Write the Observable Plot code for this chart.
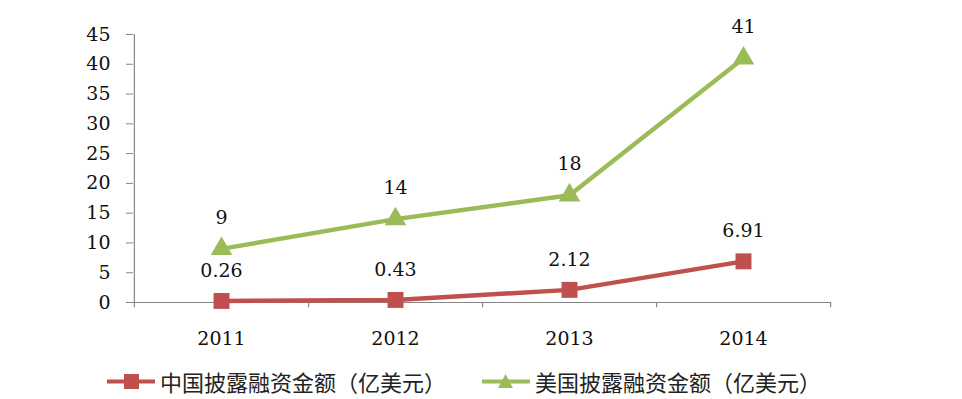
<!DOCTYPE html>
<html><head><meta charset="utf-8">
<script src="https://cdn.jsdelivr.net/npm/d3@7"></script>
<script src="https://cdn.jsdelivr.net/npm/@observablehq/plot@0.6"></script>
<style>
body{margin:0;background:#fff;}
#legend{display:flex;align-items:center;font-family:"Noto Sans CJK SC","Noto Sans",sans-serif;font-size:22px;color:#222;height:30px;margin-top:21px;padding-left:107px;white-space:nowrap;}
.item{display:flex;align-items:center;margin-right:36px;}
.item svg{margin-right:5px;}
</style></head>
<body><div id="chart"></div><div id="legend"></div>
<script>
const years = ["2011","2012","2013","2014"];
const china = [0.26, 0.43, 2.12, 6.91];
const usa = [9, 14, 18, 41];
const chinaLabels = ["0.26","0.43","2.12","6.91"];
const usaLabels = ["9","14","18","41"];
const seriesNames = ["中国披露融资金额（亿美元）","美国披露融资金额（亿美元）"];
const colors = ["#C0504D","#9BBB59"];
const yTicks = [0,5,10,15,20,25,30,35,40,45];

const chinaData = years.map((y,i)=>({year:y, v:china[i], label:chinaLabels[i]}));
const usaData = years.map((y,i)=>({year:y, v:usa[i], label:usaLabels[i]}));

const W = 962, H = 345, ML = 133, MR = 132;
const half = (W - ML - MR) / years.length / 2;
const axisColor = "#868686";
const serif = "'DejaVu Serif','Liberation Serif',serif";

const chart = Plot.plot({
  width: W, height: H,
  marginLeft: ML, marginRight: MR, marginTop: 34, marginBottom: 43,
  style: {fontFamily: serif, fontSize: "19px", color: "#111", background: "#fff", overflow: "visible"},
  x: {type: "band", domain: years, padding: 0},
  y: {domain: [0, 45]},
  marks: [
    Plot.axisY({ticks: yTicks, tickSize: 7, tickPadding: 16, stroke: axisColor, fontSize: 19, fill: "#111", label: null}),
    Plot.axisX({tickSize: 0, tickPadding: 29, fontSize: 19, fill: "#111", label: null}),
    Plot.ruleX([years[0]], {x: d => d, dx: -half, y1: 0, y2: 45, stroke: axisColor, strokeWidth: 1.2}),
    Plot.ruleY([0], {stroke: axisColor, strokeWidth: 1.2}),
    Plot.ruleX(years, {x: d => d, dx: half, y1: 0, y2: -0.9, stroke: axisColor, strokeWidth: 1.2}),
    Plot.ruleX([years[0]], {x: d => d, dx: -half, y1: 0, y2: -0.9, stroke: axisColor, strokeWidth: 1.2}),
    Plot.line(chinaData, {x: "year", y: "v", stroke: colors[0], strokeWidth: 4.5}),
    Plot.line(usaData, {x: "year", y: "v", stroke: colors[1], strokeWidth: 4.5}),
    Plot.dot(chinaData, {x: "year", y: "v", symbol: "square", r: 9, fill: colors[0], stroke: "none"}),
    Plot.dot(usaData, {x: "year", y: "v", symbol: "triangle", r: 8, fill: colors[1], stroke: "none"}),
    Plot.text(chinaData, {x: "year", y: "v", text: "label", dy: -30, fontSize: 19, fill: "#111"}),
    Plot.text(usaData, {x: "year", y: "v", text: "label", dy: -31, fontSize: 19, fill: "#111"})
  ]
});
document.getElementById("chart").append(chart);

const legend = document.getElementById("legend");
const markers = [
  `<rect x="17" y="3" width="15" height="15" fill="${colors[0]}"/>`,
  `<path d="M23.5,3 L31,17 L16,17 Z" fill="${colors[1]}"/>`
];
seriesNames.forEach((name,i)=>{
  const item = document.createElement("div");
  item.className = "item";
  item.innerHTML = `<svg width="48" height="20"><line x1="0" y1="10.5" x2="48" y2="10.5" stroke="${colors[i]}" stroke-width="4"/>${markers[i]}</svg><span>${name}</span>`;
  legend.append(item);
});
</script></body></html>
